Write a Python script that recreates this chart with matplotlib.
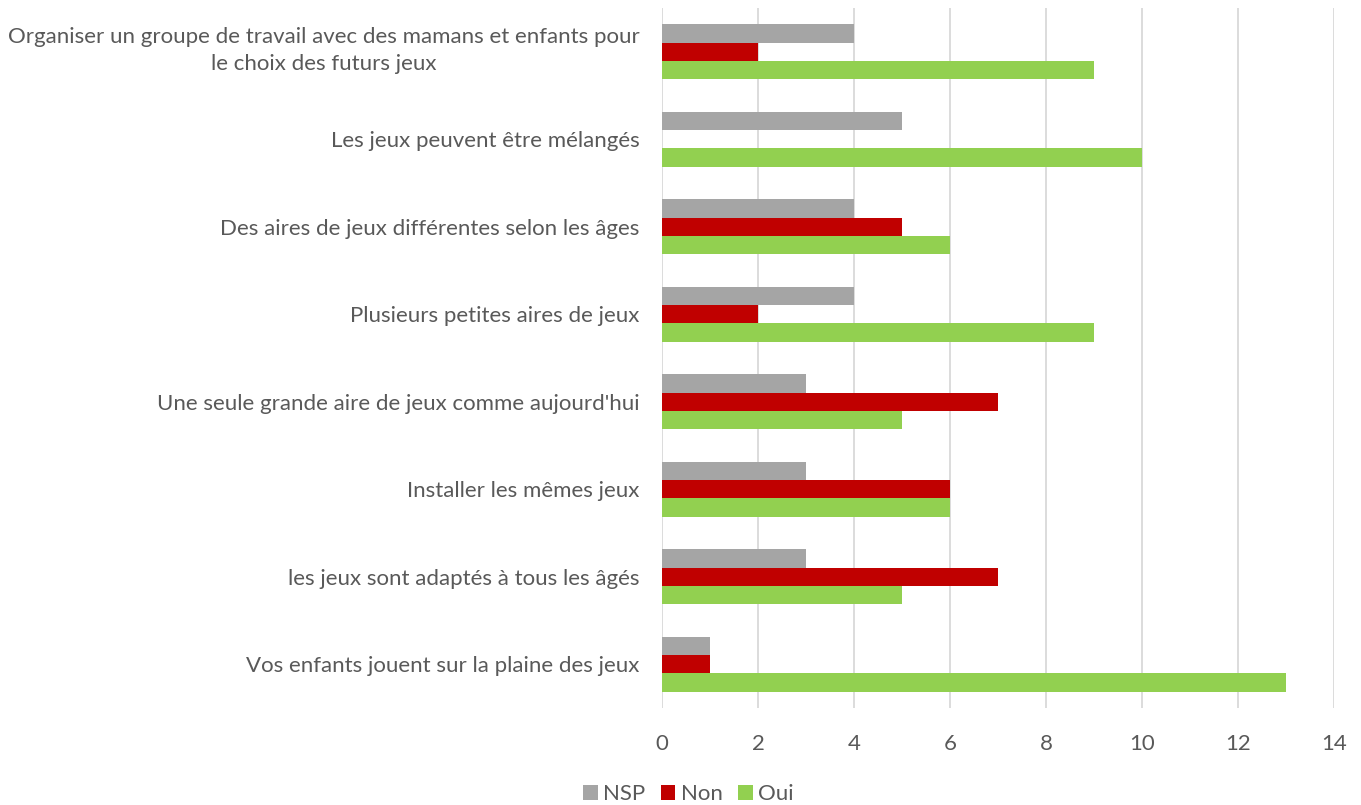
import matplotlib
matplotlib.use("Agg")
import matplotlib.pyplot as plt
import matplotlib.transforms as mtransforms
import numpy as np

# categories listed top to bottom as they appear in the chart
categories = [
    "Organiser un groupe de travail avec des mamans et enfants pour\nle choix des futurs jeux",
    "Les jeux peuvent être mélangés",
    "Des aires de jeux différentes selon les âges",
    "Plusieurs petites aires de jeux",
    "Une seule grande aire de jeux comme aujourd'hui",
    "Installer les mêmes jeux",
    "les jeux sont adaptés à tous les âgés",
    "Vos enfants jouent sur la plaine des jeux",
]
nsp = [4, 5, 4, 4, 3, 3, 3, 1]
non = [2, 0, 5, 2, 7, 6, 7, 1]
oui = [9, 10, 6, 9, 5, 6, 5, 13]
x_ticks = [0, 2, 4, 6, 8, 10, 12, 14]

TEXT = "#595959"
FS = 16
plt.rcParams["font.family"] = ["Lato", "DejaVu Sans"]

fig = plt.figure(figsize=(13.61, 8.05), dpi=100)
ax = fig.add_axes([0.4864, 0.1205, 0.4938, 0.8695])

y = np.arange(len(categories))
h = 0.21
ax.barh(y - h, nsp, h, color="#A5A5A5", label="NSP")
ax.barh(y, non, h, color="#C00000", label="Non")
ax.barh(y + h, oui, h, color="#92D050", label="Oui")

ax.set_xlim(0, 14)
ax.set_ylim(len(categories) - 0.5, -0.5)
ax.set_xticks(x_ticks)
ax.set_yticks(y)
ax.set_yticklabels(categories, multialignment="center", linespacing=1.45)
ax.tick_params(axis="both", length=0, colors=TEXT, labelsize=FS)
ax.tick_params(axis="y", pad=16)
ax.tick_params(axis="x", pad=19)
ax.grid(axis="x", color="#D9D9D9", linewidth=1.3)
ax.set_axisbelow(True)
for s in ax.spines.values():
    s.set_visible(False)

# the two-line label sits a bit high in the original
first = ax.get_yticklabels()[0]
first.set_transform(first.get_transform()
                    + mtransforms.ScaledTranslation(0, 5 / 72, fig.dpi_scale_trans))

fig.legend(loc="lower center", bbox_to_anchor=(0.506, -0.024), ncol=3, frameon=False,
           fontsize=FS, labelcolor=TEXT, handlelength=0.65, handleheight=0.65,
           handletextpad=0.25, columnspacing=0.7)

fig.savefig("out.png", dpi=100)
